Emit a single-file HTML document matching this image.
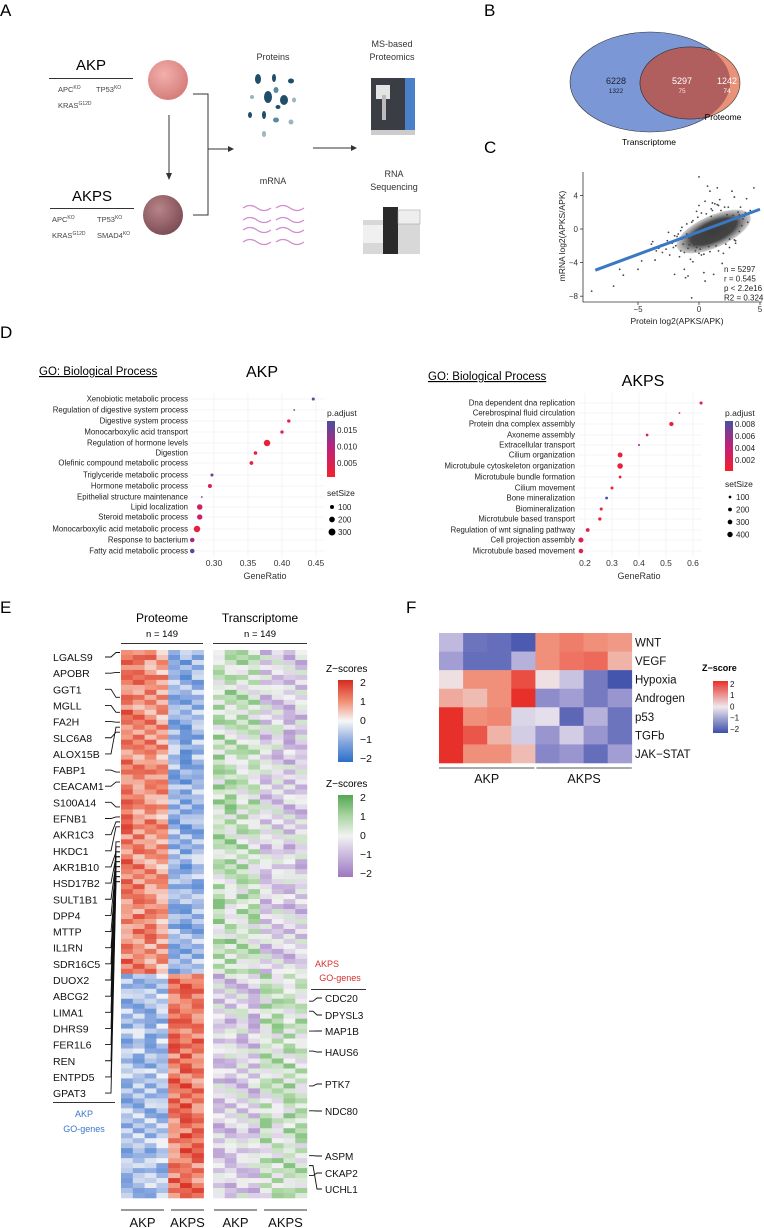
<!DOCTYPE html>
<html><head><meta charset="utf-8"><style>
html,body{margin:0;padding:0;background:#fff;}
svg{display:block;font-family:"Liberation Sans",sans-serif;}
</style></head><body>
<svg id="fig" width="764" height="1228" viewBox="0 0 764 1228" xmlns="http://www.w3.org/2000/svg">
<defs>
<radialGradient id="tumA" cx="0.4" cy="0.35" r="0.7"><stop offset="0" stop-color="#f2b0ac"/><stop offset="1" stop-color="#d47a78"/></radialGradient>
<radialGradient id="tumB" cx="0.4" cy="0.35" r="0.7"><stop offset="0" stop-color="#b88488"/><stop offset="1" stop-color="#7a4a52"/></radialGradient>
<linearGradient id="pAkp" x1="0" y1="1" x2="0" y2="0"><stop offset="0" stop-color="#f5202a"/><stop offset="0.5" stop-color="#c0207a"/><stop offset="1" stop-color="#4a50a0"/></linearGradient>
<linearGradient id="rb" x1="0" y1="0" x2="0" y2="1"><stop offset="0" stop-color="#d62a20"/><stop offset="0.25" stop-color="#f08a70"/><stop offset="0.5" stop-color="#f7f7f7"/><stop offset="0.75" stop-color="#8aa8e0"/><stop offset="1" stop-color="#2a6fc8"/></linearGradient>
<linearGradient id="gp" x1="0" y1="0" x2="0" y2="1"><stop offset="0" stop-color="#52a852"/><stop offset="0.25" stop-color="#a8d4a0"/><stop offset="0.5" stop-color="#f2f2f2"/><stop offset="0.75" stop-color="#c8b4dc"/><stop offset="1" stop-color="#9a78c0"/></linearGradient>
<linearGradient id="fz" x1="0" y1="0" x2="0" y2="1"><stop offset="0" stop-color="#e8302a"/><stop offset="0.5" stop-color="#eee8ee"/><stop offset="1" stop-color="#3b4fa8"/></linearGradient>
<radialGradient id="cloudG" cx="0.5" cy="0.5" r="0.5"><stop offset="0" stop-color="#3c3c3c"/><stop offset="0.6" stop-color="#444"/><stop offset="1" stop-color="#666" stop-opacity="0.3"/></radialGradient>
</defs>

<!-- PANEL A -->
<g>
<text x="0" y="16" font-size="17">A</text>
<text x="91" y="70" font-size="15" text-anchor="middle">AKP</text>
<line x1="49" y1="78.5" x2="133" y2="78.5" stroke="#333" stroke-width="1"/>
<text x="58" y="92" font-size="7.5" fill="#444">APC<tspan font-size="5" dy="-3">KO</tspan></text>
<text x="96" y="92" font-size="7.5" fill="#444">TP53<tspan font-size="5" dy="-3">KO</tspan></text>
<text x="58" y="108" font-size="7.5" fill="#444">KRAS<tspan font-size="5" dy="-3">G12D</tspan></text>
<circle cx="168" cy="80" r="20" fill="url(#tumA)"/>
<line x1="169" y1="115" x2="169" y2="175" stroke="#333"/>
<polygon points="166,173 172,173 169,180" fill="#333"/>
<text x="92" y="201" font-size="15" text-anchor="middle">AKPS</text>
<line x1="50" y1="208.5" x2="134" y2="208.5" stroke="#333"/>
<text x="52" y="222" font-size="7.5" fill="#444">APC<tspan font-size="5" dy="-3">KO</tspan></text>
<text x="97" y="222" font-size="7.5" fill="#444">TP53<tspan font-size="5" dy="-3">KO</tspan></text>
<text x="52" y="238" font-size="7.5" fill="#444">KRAS<tspan font-size="5" dy="-3">G12D</tspan></text>
<text x="97" y="238" font-size="7.5" fill="#444">SMAD4<tspan font-size="5" dy="-3">KO</tspan></text>
<circle cx="163" cy="215" r="20" fill="url(#tumB)"/>
<polyline points="193,94 208,94 208,215 193,215" fill="none" stroke="#333"/>
<line x1="208" y1="149" x2="230" y2="149" stroke="#333"/>
<polygon points="228,146 234,149 228,152" fill="#333"/>
<text x="273" y="60" font-size="9" text-anchor="middle" fill="#333">Proteins</text>
<g fill="#1f4e6a">
<ellipse cx="258" cy="79" rx="3" ry="5"/><ellipse cx="274" cy="78" rx="2" ry="4"/><ellipse cx="291" cy="81" rx="3" ry="2.5"/>
<ellipse cx="268" cy="97" rx="4" ry="6"/><ellipse cx="284" cy="100" rx="4" ry="5"/><ellipse cx="276" cy="90" rx="2.5" ry="3" fill="#5a8aa0"/>
<ellipse cx="250" cy="115" rx="2" ry="3"/><ellipse cx="264" cy="115" rx="2" ry="4"/><ellipse cx="276" cy="120" rx="3" ry="2.5" fill="#5a8aa0"/>
<ellipse cx="291" cy="122" rx="2.5" ry="2.5" fill="#9ab4c0"/><ellipse cx="252" cy="97" rx="2" ry="2" fill="#9ab4c0"/><ellipse cx="294" cy="100" rx="2" ry="2.5" fill="#9ab4c0"/>
<ellipse cx="264" cy="134" rx="2" ry="3" fill="#9ab4c0"/><ellipse cx="278" cy="107" rx="2.5" ry="2"/>
</g>
<line x1="313" y1="148" x2="352" y2="148" stroke="#333"/>
<polygon points="351,145 357,148 351,151" fill="#333"/>
<text x="273" y="184" font-size="9" text-anchor="middle" fill="#333">mRNA</text>
<g fill="none" stroke="#d48ad0" stroke-width="1.3">
<path d="M243,208 q7,-5 14,0 t14,0"/><path d="M276,208 q7,-5 14,0 t14,0"/>
<path d="M243,220 q7,-5 14,0 t14,0"/><path d="M276,220 q7,-5 14,0 t14,0"/>
<path d="M243,230 q7,-5 14,0 t14,0"/><path d="M276,230 q7,-5 14,0 t14,0"/>
<path d="M243,242 q7,-5 14,0 t14,0"/><path d="M276,242 q7,-5 14,0 t14,0"/>
</g>
<text x="392" y="47" font-size="9" text-anchor="middle" fill="#333">MS-based</text>
<text x="392" y="60" font-size="9" text-anchor="middle" fill="#333">Proteomics</text>
<g>
<rect x="371" y="78" width="44" height="56" fill="#3a3e44"/><rect x="405" y="78" width="10" height="56" fill="#4a80c8"/>
<rect x="376" y="85" width="14" height="14" fill="#e4e4e4"/><rect x="382" y="95" width="4" height="25" fill="#bbb"/>
<rect x="371" y="130" width="44" height="5" fill="#ccc"/></g>
<text x="394" y="177" font-size="9" text-anchor="middle" fill="#333">RNA</text>
<text x="394" y="190" font-size="9" text-anchor="middle" fill="#333">Sequencing</text>
<g>
<rect x="363" y="220" width="57" height="34" fill="#d8d8d8"/><rect x="383" y="207" width="15" height="47" fill="#2a2a2a"/>
<rect x="398" y="210" width="22" height="14" fill="#eee" stroke="#999" stroke-width="0.5"/><rect x="363" y="225" width="20" height="18" fill="#f0f0f0"/></g>
</g>

<!-- PANEL B -->
<g>
<text x="484" y="16" font-size="17">B</text>
<ellipse cx="650" cy="82" rx="80" ry="50" fill="#7b97d6" stroke="#333" stroke-width="0.6"/>
<ellipse cx="690" cy="83" rx="50" ry="36" fill="#e47f62" fill-opacity="0.85" stroke="#333" stroke-width="0.6"/>
<clipPath id="cT"><ellipse cx="650" cy="82" rx="80" ry="50"/></clipPath>
<ellipse cx="690" cy="83" rx="50" ry="36" fill="#b05e5e" clip-path="url(#cT)" stroke="#333" stroke-width="0.6"/>
<text x="616" y="84" font-size="9" text-anchor="middle" fill="#223">6228</text>
<text x="616" y="93" font-size="6.5" text-anchor="middle" fill="#223">1322</text>
<text x="682" y="84" font-size="9" text-anchor="middle" fill="#fff">5297</text>
<text x="682" y="93" font-size="6.5" text-anchor="middle" fill="#fde">75</text>
<text x="727" y="84" font-size="9" text-anchor="middle" fill="#fff">1242</text>
<text x="727" y="93" font-size="6.5" text-anchor="middle" fill="#fff">74</text>
<text x="723" y="120" font-size="8.5" text-anchor="middle">Proteome</text>
<text x="649" y="145" font-size="8.5" text-anchor="middle">Transcriptome</text>
</g>

<!-- PANEL C -->
<g id="scatter">
<text x="484" y="153" font-size="17">C</text>
</g>

<!-- PANEL D -->
<g>
<text x="0" y="338" font-size="17">D</text>
<text x="39" y="375" font-size="11.5" text-decoration="underline">GO: Biological Process</text>
<text x="262" y="377" font-size="16" text-anchor="middle">AKP</text>
<text x="428" y="380" font-size="11.5" text-decoration="underline">GO: Biological Process</text>
<text x="643" y="386" font-size="16" text-anchor="middle">AKPS</text>
<g id="dotAkp"></g>
<g id="dotAkps"></g>
</g>

<!-- PANEL E -->
<g id="panelE">
<text x="0" y="613" font-size="17">E</text>
<text x="162" y="622" font-size="12" text-anchor="middle">Proteome</text>
<text x="162" y="637" font-size="9.5" text-anchor="middle">n = 149</text>
<line x1="121" y1="643.5" x2="203" y2="643.5" stroke="#333"/>
<text x="260" y="622" font-size="12" text-anchor="middle">Transcriptome</text>
<text x="260" y="637" font-size="9.5" text-anchor="middle">n = 149</text>
<line x1="213" y1="643.5" x2="307" y2="643.5" stroke="#333"/>
<text x="326" y="672" font-size="10">Z−scores</text>
<rect x="338" y="680" width="15" height="82" fill="url(#rb)"/>
<text x="326" y="787" font-size="10">Z−scores</text>
<rect x="338" y="795" width="15" height="82" fill="url(#gp)"/>
<text x="327" y="967" font-size="9" fill="#d43030" text-anchor="middle">AKPS</text>
<text x="340" y="981" font-size="9" fill="#d43030" text-anchor="middle">GO-genes</text>
<line x1="311" y1="989.5" x2="366" y2="989.5" stroke="#333"/>
<line x1="53" y1="1102.5" x2="115" y2="1102.5" stroke="#333"/>
<text x="84" y="1117" font-size="9" fill="#3a78c8" text-anchor="middle">AKP</text>
<text x="84" y="1132" font-size="9" fill="#3a78c8" text-anchor="middle">GO-genes</text>
</g>

<!-- PANEL F -->
<g id="panelF">
<text x="406" y="613" font-size="17">F</text>
<text x="702" y="671" font-size="9" font-weight="bold">Z−score</text>
<rect x="713" y="681" width="15" height="52" fill="url(#fz)"/>
</g>
</svg>

<script>
var NS="http://www.w3.org/2000/svg";
function mk(parent,tag,attrs){var e=document.createElementNS(NS,tag);for(var k in attrs)e.setAttribute(k,attrs[k]);parent.appendChild(e);return e;}
function tx(parent,x,y,s,size,anchor,fill){var e=mk(parent,'text',{x:x,y:y,'font-size':size,'text-anchor':anchor||'start',fill:fill||'#000'});e.textContent=s;return e;}

/* ===== Panel C scatter data ===== */
var scXTicks=[-5,0,5];
var scYTicks=[4,0,-4,-8];
var ptX=[-8.8,-7,-6.5,-6.2,-5.3,-5,-4.7,-3.9,-3.6,-3.5,-3.3,-3.1,-3,-2.7,-2.6,-2.4,-2.2,-2.1,-2,-1.8,-1.6,-1.5,-1.4,-1.2,-1.1,-1,-0.9,-0.8,-0.6,-0.5,-0.3,-0.2,0,0.2,0.4,0.5,0.7,0.9,1.1,1.3,1.5,1.7,1.9,2.1,2.3,2.5,2.7,2.9,3.1,3.3,3.6,3.9,4.2,4.5,-1.5,-1,-0.5,0.3,1,2,3,0.5,-2.5,-3.8,1.6,2.6,3.4,0,-0.7,1.2,
 -2.2,-1.9,-1.7,-1.3,-0.9,-0.6,-0.4,-0.1,0.1,0.6,0.8,1.0,1.4,1.8,2.2,2.4,2.8,3.0,3.2,3.5,3.7,4.0,-1.2,-0.8,-0.3,0.2,0.9,1.6,2.5,3.3,-2.0,-1.4,0.0,1.1,2.0,2.9,3.8,-0.2,0.4,1.5];
var ptY=[-7.4,-6.8,-4.8,-5.5,-3.2,-4.8,-3.8,-1.8,-3.7,-2.6,-2.3,-1.9,-2.8,-2.4,-1.4,-3.1,-1.7,-2.2,-5.4,-0.9,-3.3,-2.6,-1.2,-4.8,-5.8,-0.6,-5.6,-1.9,-8.2,-3.9,-0.5,-2.2,6.2,-3.1,-5.2,3.3,5.1,4.5,2.2,3.0,4.9,3.5,-4.1,2.6,1.7,-1.2,4.5,3.8,0.9,-0.3,1.2,3.6,2.2,4.9,-0.2,0.6,1.0,-1.6,1.5,0.5,-1.7,-6.2,-0.4,-1.5,-2.6,0.1,2.6,2.8,-3.6,-5.4,
 -1.5,-2.0,-0.6,-1.8,-2.3,0.8,-1.9,1.4,-2.4,1.8,-2.1,2.4,-2.0,2.2,-1.8,2.6,1.6,-1.4,2.0,0.4,1.5,0.8,-2.8,-1.1,-2.6,1.9,-2.7,2.8,-2.2,1.7,-0.8,0.2,-2.9,3.1,-2.9,-1.3,1.9,2.1,-3.0,2.9];
var fitX=[-8.5,5];
var fitY=[-4.9,2.35];
var statLines=["n = 5297","r = 0.545","p < 2.2e16","R2 = 0.324"];
(function(){
  var g=document.getElementById('scatter');
  function X(v){return 699+v*12.2;} function Y(v){return 229-v*8.4;}
  var ax=mk(g,'path',{d:'M583,172 V302 H762',fill:'none',stroke:'#333','stroke-width':0.8});
  
  
  scXTicks.forEach(function(t){
    var l=mk(g,'line',{x1:X(t),x2:X(t),y1:302,y2:305,stroke:'#333','stroke-width':0.8});
    
    
    var e=tx(g,X(t),312,String(t).replace('-','−'),8,'middle','#333');
    
    
  });
  scYTicks.forEach(function(t){
    var l=mk(g,'line',{x1:580,x2:583,y1:Y(t),y2:Y(t),stroke:'#333','stroke-width':0.8});
    
    
    var e=tx(g,578,Y(t)+3,String(t).replace('-','−'),8,'end','#333');
    
    
  });
  var xl=tx(g,677,324,'Protein log2(APKS/APK)',8.5,'middle','#222');
  
  
  var yl=tx(g,0,0,'mRNA log2(APKS/APK)',8.5,'middle','#222');
  yl.setAttribute('transform','translate(565,236) rotate(-90)');
  
  
  var cx=X(1.2),cy=Y(-0.3);
  var cloud=mk(g,'ellipse',{cx:cx,cy:cy,rx:40,ry:16,fill:'url(#cloudG)',transform:'rotate(-24 '+cx+' '+cy+')'});
  
  
  for(var i=0;i<ptX.length;i++){
    var c=mk(g,'circle',{cx:X(ptX[i]),cy:Y(ptY[i]),r:0.9,fill:'#444'});
    
    
  }
  var fl=mk(g,'line',{x1:X(fitX[0]),y1:Y(fitY[0]),x2:X(fitX[1]),y2:Y(fitY[1]),stroke:'#3a78c4','stroke-width':3});
  
  
  statLines.forEach(function(s,i){
    var e=tx(g,724,272+i*9.5,s,8,'start','#222');
    
    
  });
})();

/* ===== Panel D dot plots ===== */
var akpTerms=["Xenobiotic metabolic process","Regulation of digestive system process","Digestive system process","Monocarboxylic acid transport","Regulation of hormone levels","Digestion","Olefinic compound metabolic process","Triglyceride metabolic process","Hormone metabolic process","Epithelial structure maintenance","Lipid localization","Steroid metabolic process","Monocarboxylic acid metabolic process","Response to bacterium","Fatty acid metabolic process"];
var akpRatio=[0.446,0.418,0.41,0.40,0.378,0.361,0.355,0.297,0.294,0.282,0.279,0.279,0.275,0.268,0.268];
var akpSize=[60,20,70,70,260,80,90,60,100,20,190,180,260,130,130];
var akpPadj=[0.017,0.013,0.003,0.003,0.002,0.002,0.002,0.015,0.004,0.015,0.006,0.007,0.002,0.011,0.016];
var akpRowY=[399,410,421,432,443,453,463,475,486,497,507,517,529,540,551];
var akpTicks=[0.30,0.35,0.40,0.45];
var akpsTerms=["Dna dependent dna replication","Cerebrospinal fluid circulation","Protein dna complex assembly","Axoneme assembly","Extracellular transport","Cilium organization","Microtubule cytoskeleton organization","Microtubule bundle formation","Cilium movement","Bone mineralization","Biomineralization","Microtubule based transport","Regulation of wnt signaling pathway","Cell projection assembly","Microtubule based movement"];
var akpsRatio=[0.63,0.55,0.52,0.43,0.40,0.33,0.33,0.33,0.30,0.28,0.26,0.255,0.21,0.185,0.185];
var akpsSize=[130,40,250,100,60,330,420,110,120,110,130,150,200,360,280];
var akpsPadj=[0.002,0.004,0.001,0.002,0.006,0.001,0.001,0.001,0.001,0.009,0.001,0.001,0.002,0.002,0.002];
var akpsRowY=[403,413,424,435,445,455,466,477,488,498,509,519,530,540,551];
var akpsTicks=[0.2,0.3,0.4,0.5,0.6];

function lerpC(a,b,t){var pa=[parseInt(a.substr(1,2),16),parseInt(a.substr(3,2),16),parseInt(a.substr(5,2),16)],pb=[parseInt(b.substr(1,2),16),parseInt(b.substr(3,2),16),parseInt(b.substr(5,2),16)];return 'rgb('+pa.map(function(v,i){return Math.round(v+(pb[i]-v)*t);}).join(',')+')';}
function padjColor(p,max){var t=Math.max(0,Math.min(1,p/max));return t<0.5?lerpC('#f5202a','#c0207a',t*2):lerpC('#c0207a','#4a50a0',(t-0.5)*2);}
function dotPlot(gid,terms,ratio,size,padj,rowY,ticks,x0,x1,vmin,vmax,labX,pmax,rk,legX,pLabels,sLabels){
  var g=document.getElementById(gid);
  function X(v){return x0+(v-vmin)/(vmax-vmin)*(x1-x0);}
  var pl=mk(g,'rect',{x:labX+2,y:393,width:(x1+10)-(labX+2),height:164,fill:'#fff'});
  
  
  rowY.forEach(function(y){var l=mk(g,'line',{x1:labX+3,x2:x1+9,y1:y,y2:y,stroke:'#ececf2','stroke-width':0.6});
    
    });
  ticks.forEach(function(t){var l=mk(g,'line',{x1:X(t),x2:X(t),y1:393,y2:557,stroke:'#ececf2','stroke-width':0.6});
    
    
    var e=tx(g,X(t),566,t.toFixed(gid==='dotAkp'?2:1),8.5,'middle','#333');
    
    });
  var gr=tx(g,(x0+x1)/2,579,'GeneRatio',9,'middle','#333');
  
  
  terms.forEach(function(t,i){
    var e=tx(g,labX,rowY[i]+2.5,t,7.8,'end','#222');
    
    
    var c=mk(g,'circle',{cx:X(ratio[i]),cy:rowY[i],r:Math.sqrt(size[i])*rk,fill:padjColor(padj[i],pmax)});
    
    
  });
  var lt=tx(g,legX,416,'p.adjust',8.5,'start','#222');
  
  
  var cb=mk(g,'rect',{x:legX,y:421,width:8,height:gid==='dotAkp'?56:50,fill:'url(#pAkp)'});
  
  
  pLabels.forEach(function(s,i){var e=tx(g,legX+10,gid==='dotAkp'?433+i*16.5:427+i*12,s,8,'start','#222');
    
    });
  var st=tx(g,legX,gid==='dotAkp'?496:487,'setSize',8.5,'start','#222');
  
  
  sLabels.forEach(function(s,i){var y=(gid==='dotAkp'?507:497)+i*12.5;
    var c=mk(g,'circle',{cx:legX+5,cy:y,r:Math.sqrt(s)*rk,fill:'#000'});
    
    
    var e=tx(g,legX+11,y+3,String(s),8,'start','#222');
    
    });
}
dotPlot('dotAkp',akpTerms,akpRatio,akpSize,akpPadj,akpRowY,akpTicks,214,316,0.30,0.45,188,0.018,0.2,327,['0.015','0.010','0.005'],[100,200,300]);
dotPlot('dotAkps',akpsTerms,akpsRatio,akpsSize,akpsPadj,akpsRowY,akpsTicks,585,693,0.2,0.6,575,0.009,0.135,725,['0.008','0.006','0.004','0.002'],[100,200,300,400]);

/* ===== Panel E heatmaps ===== */
var protTopMeans=[1.15,1.0,0.95,0.8,-0.85,-0.95,-0.8];
var protBotMeans=[-0.75,-0.7,-0.7,-0.65,1.2,1.3,1.15];
var trTopMeans=[0.55,0.6,0.45,0.4,-0.4,-0.35,-0.5,-0.45];
var trBotMeans=[-0.5,-0.45,-0.4,-0.45,0.4,0.45,0.5,0.4];
var noiseDigits="371829046551938270648213905762841937562018473920615847392061582739405162839471605283917462058391746205839174620538917462053891724603859172640385917264039581726403958172640395817264";
var leftGenes=["LGALS9","APOBR","GGT1","MGLL","FA2H","SLC6A8","ALOX15B","FABP1","CEACAM1","S100A14","EFNB1","AKR1C3","HKDC1","AKR1B10","HSD17B2","SULT1B1","DPP4","MTTP","IL1RN","SDR16C5","DUOX2","ABCG2","LIMA1","DHRS9","FER1L6","REN","ENTPD5","GPAT3"];
var leftTargetRow=[0,4,9,12,14,16,15,24,26,31,33,34,35,40,41,42,43,45,46,38,39,40,41,42,43,44,45,46];
var rightGenes=["CDC20","DPYSL3","MAP1B","HAUS6","PTK7","NDC80","ASPM","CKAP2","UCHL1"];
var rightLabelY=[998,1015,1031,1052,1084,1111,1156,1173,1189];
var rightTargetRow=[70,72,76,80,87,92,101,105,103];
var groupLabels=["AKP","AKPS","AKP","AKPS"];
var zTicks=[2,1,0,-1,-2];
(function(){
  var g=document.getElementById('panelE');
  var nRows=110,nTop=65,top=650,bottom=1198,rh=(bottom-top)/nRows;
  function rowY(r){return top+r*rh;}
  var rbStops=['#2a6fc8','#8aa8e0','#f7f7f7','#f08a70','#d62a20'];
  var gpStops=['#9a78c0','#c8b4dc','#f2f2f2','#a8d4a0','#52a852'];
  function col(stops,v){v=Math.max(-2,Math.min(2,v));var p=v+2,i=Math.min(3,Math.floor(p));return lerpC(stops[i],stops[i+1],p-i);}
  function noise(r,c,k){var d=+noiseDigits[(r*7+c*13+k*5)%noiseDigits.length];return (d-4.5);}
  for(var r=0;r<nRows;r++){
    var isTop=r<nTop;
    for(var c=0;c<7;c++){
      var m=(isTop?protTopMeans:protBotMeans)[c];
      var v=m+noise(r,c,0)*0.13;
      var cell=mk(g,'rect',{x:121+c*11.8,y:rowY(r),width:12.1,height:rh+0.3,fill:col(rbStops,v)});
      
      
    }
    for(var c2=0;c2<8;c2++){
      var m2=(isTop?trTopMeans:trBotMeans)[c2];
      var v2=m2+noise(r,c2,3)*0.2;
      var cell2=mk(g,'rect',{x:213+c2*11.75,y:rowY(r),width:12,height:rh+0.3,fill:col(gpStops,v2)});
      
      
    }
  }
  leftGenes.forEach(function(s,i){
    var y=657+i*16.15;
    var e=tx(g,53,y+4,s,10.5,'start','#111');
    
    
    var ty=rowY(leftTargetRow[i])+rh/2;
    var pl=mk(g,'polyline',{points:'105,'+y+' 111,'+y+' 116,'+ty+' 120,'+ty,fill:'none',stroke:'#111','stroke-width':0.9});
    
    
  });
  rightGenes.forEach(function(s,i){
    var y=rightLabelY[i];
    var e=tx(g,325,y+4,s,10,'start','#111');
    
    
    var ty=rowY(rightTargetRow[i])+rh/2;
    var pl=mk(g,'polyline',{points:'309,'+ty+' 313,'+ty+' 317,'+y+' 322,'+y,fill:'none',stroke:'#111','stroke-width':0.9});
    
    
  });
  var gx=[[121,164],[171,204],[214,257],[264,307]];
  groupLabels.forEach(function(s,i){
    var l=mk(g,'line',{x1:gx[i][0],x2:gx[i][1],y1:1210,y2:1210,stroke:'#333'});
    
    
    var e=tx(g,(gx[i][0]+gx[i][1])/2,1227,s,13,'middle','#111');
    
    
  });
  zTicks.forEach(function(t,i){
    var e=tx(g,360,686+i*19,String(t).replace('-','−'),10.5,'start','#111');
    
    
    var e2=tx(g,360,801+i*19,String(t).replace('-','−'),10.5,'start','#111');
    
    
  });
})();

/* ===== Panel F pathway heatmap ===== */
var pathways=["WNT","VEGF","Hypoxia","Androgen","p53","TGFb","JAK−STAT"];
var fRowWNT=[-0.5,-1.4,-1.5,-1.8,1.0,1.2,1.0,0.9];
var fRowVEGF=[-0.8,-1.5,-1.5,-0.6,1.0,1.3,1.4,0.6];
var fRowHypoxia=[0.1,1.0,1.0,1.7,0.1,-0.4,-1.3,-1.9];
var fRowAndrogen=[0.7,0.5,1.0,2.2,-1.0,-0.8,-1.3,-0.9];
var fRowP53=[2.0,1.0,1.1,-0.2,-0.1,-1.6,-0.6,-1.4];
var fRowTGFb=[2.0,1.6,0.6,-0.3,-0.9,-0.3,-0.9,-1.4];
var fRowJAK=[2.0,1.0,1.0,0.5,-1.1,-0.9,-1.5,-0.8];
var fGroups=["AKP","AKPS"];
var fTicks=[2,1,0,-1,-2];
(function(){
  var g=document.getElementById('panelF');
  var rows=[fRowWNT,fRowVEGF,fRowHypoxia,fRowAndrogen,fRowP53,fRowTGFb,fRowJAK];
  var stops=['#3b4fa8','#8f8ccc','#eee8ee','#f0907a','#e8302a'];
  function col(v){v=Math.max(-2,Math.min(2,v));var p=v+2,i=Math.min(3,Math.floor(p));return lerpC(stops[i],stops[i+1],p-i);}
  var x0=439,cw=24.1,y0=633,rh=18.57;
  rows.forEach(function(row,r){
    row.forEach(function(v,c){
      var cell=mk(g,'rect',{x:x0+c*cw,y:y0+r*rh,width:cw+0.3,height:rh+0.3,fill:col(v)});
      
      
    });
    var e=tx(g,635,y0+r*rh+13.5,pathways[r],11.5,'start','#111');
    
    
  });
  fGroups.forEach(function(s,i){
    var xa=x0+i*4*cw+(i?1:0), xb=x0+(i+1)*4*cw-(i?0:1);
    var l=mk(g,'line',{x1:xa,x2:xb,y1:768,y2:768,stroke:'#555','stroke-width':1});
    
    
    var e=tx(g,(xa+xb)/2,783,s,12.5,'middle','#111');
    
    
  });
  fTicks.forEach(function(t,i){
    var e=tx(g,730,687+i*11.2,String(t).replace('-','−'),8,'start','#111');
    
    
  });
})();
</script>
</body></html>
